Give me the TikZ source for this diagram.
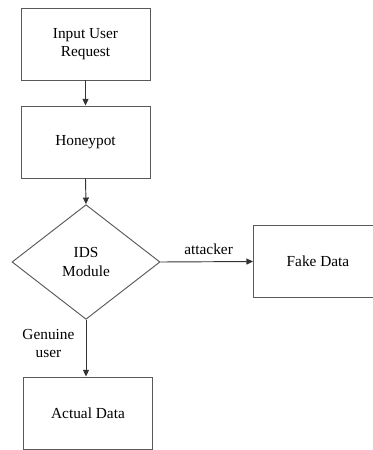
\documentclass[tikz,border=0pt]{standalone}
\usepackage{fontspec}
\setmainfont{Liberation Serif}
\usepackage{tikz}
\usetikzlibrary{shapes.geometric,arrows.meta}

\begin{document}
\begin{tikzpicture}[x=0.75pt,y=-0.75pt,
    font=\fontsize{11.5}{14}\selectfont,
    procbox/.style={draw=black!65,line width=0.7pt,minimum width=96.75pt,minimum height=54pt,inner sep=0pt,align=center},
    decision/.style={diamond,draw=black!65,line width=0.7pt,minimum width=111pt,minimum height=86pt,inner sep=0pt,align=center},
    flow/.style={draw=black!80,line width=0.7pt,-{Triangle[length=5pt,width=4.5pt]}}]
  \clip (0,0) rectangle (373,450);

  % ---- Main column ----
  \node[procbox] (input) at (85.5,44) {Input User\\Request};
  \node[procbox] (honey) at (85.5,142) {Honeypot};
  \node[decision] (ids) at (86,262) {IDS\\Module};
  \node[procbox] (actual) at (88,413) {Actual Data};

  % ---- Right branch ----
  \node[procbox] (fake) at (318,261.5) {Fake Data};

  % ---- Connectors ----
  \draw[flow] (input.south) -- (honey.north);
  \draw[flow] (honey.south) -- (ids.north);
  \draw[flow] (ids.east) -- node[above=2pt,pos=0.52]{attacker} (fake.west);
  \draw[flow] (ids.south) -- node[left=5pt,pos=0.42,align=center]{Genuine\\user} (ids.south |- actual.north);
\end{tikzpicture}
\end{document}
